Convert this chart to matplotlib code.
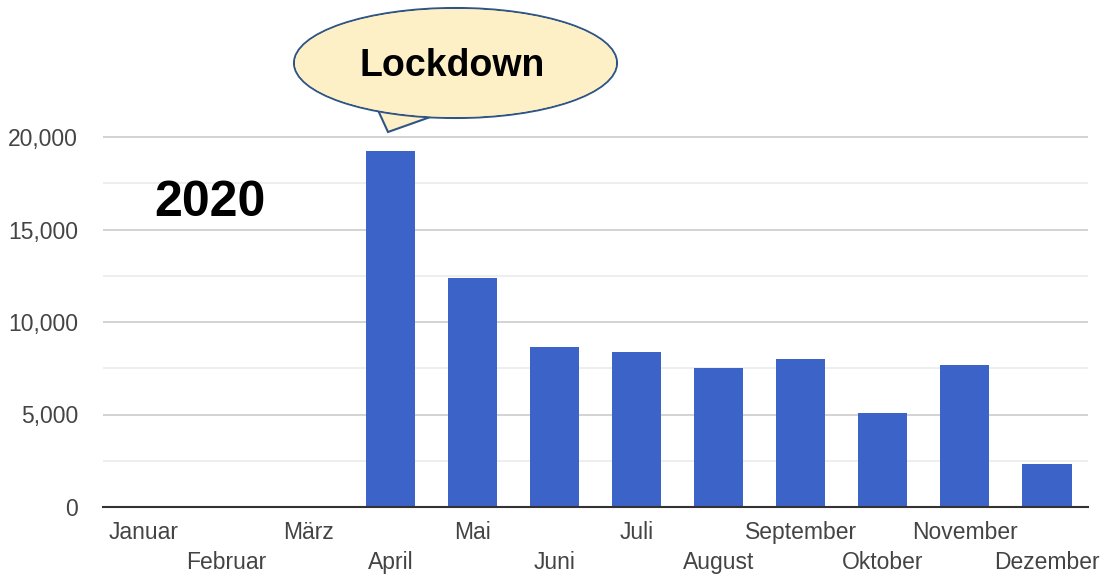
import matplotlib.pyplot as plt
from matplotlib.patches import Ellipse, Polygon
from matplotlib.ticker import FuncFormatter, MultipleLocator

plt.rcParams['font.family'] = ['Liberation Sans', 'DejaVu Sans']

months = ['Januar', 'Februar', 'März', 'April', 'Mai', 'Juni', 'Juli',
          'August', 'September', 'Oktober', 'November', 'Dezember']
values = [0, 0, 0, 19250, 12400, 8650, 8400, 7500, 8000, 5100, 7700, 2350]
year_label = '2020'
bubble_text = 'Lockdown'

W, H = 1102, 577
fig = plt.figure(figsize=(W / 100, H / 100), dpi=100)
fig.patch.set_facecolor('white')


def fx(px):
    return px / W


def fy(py):
    return 1 - py / H


ax = fig.add_axes([fx(103), fy(507), fx(1088) - fx(103), fy(118.5) - fy(507)])

x = list(range(len(months)))
ax.bar(x, values, width=0.6, color='#3b63c8', zorder=3)

ax.set_xlim(-0.5, len(months) - 0.5)
ax.set_ylim(0, 21000)

# grid: major every 5000, lighter minor lines in between
ax.yaxis.set_major_locator(MultipleLocator(5000))
ax.yaxis.set_minor_locator(MultipleLocator(2500))
ax.grid(axis='y', which='major', color='#cccccc', linewidth=1.2, zorder=0)
ax.grid(axis='y', which='minor', color='#ebebeb', linewidth=1.2, zorder=0)
ax.yaxis.set_major_formatter(FuncFormatter(lambda v, p: '{:,.0f}'.format(v)))
ax.tick_params(axis='y', which='both', length=0, pad=18, labelsize=16.5,
               labelcolor='#444444')

for s in ['top', 'right', 'left']:
    ax.spines[s].set_visible(False)
ax.spines['bottom'].set_color('#333333')
ax.spines['bottom'].set_linewidth(1.5)
ax.spines['bottom'].set_zorder(4)

# staggered month labels: even on first row, odd on second row
ax.set_xticks(x[0::2])
ax.set_xticklabels(months[0::2])
ax.set_xticks(x[1::2], minor=True)
ax.set_xticklabels(months[1::2], minor=True)
ax.tick_params(axis='x', which='major', length=0, pad=10, labelsize=16.5,
               labelcolor='#444444')
ax.tick_params(axis='x', which='minor', length=0, pad=32, labelsize=16.5,
               labelcolor='#444444')

fig.text(fx(210), fy(203), year_label, fontsize=36, fontweight='bold',
         ha='center', va='center', color='black')

# speech bubble
tail = Polygon([(fx(377), fy(108)), (fx(388), fy(132)), (fx(436), fy(115))],
               closed=True, transform=fig.transFigure,
               facecolor='#fdf0c6', edgecolor='#2f5586', linewidth=1.5,
               zorder=5)
bubble = Ellipse((fx(455.5), fy(63)), fx(323), 110 / H,
                 transform=fig.transFigure, facecolor='#fdf0c6',
                 edgecolor='#2f5586', linewidth=1.5, zorder=6)
fig.patches.append(tail)
fig.patches.append(bubble)
# cover the tail's top edge inside the ellipse
cover = Ellipse((fx(455.5), fy(63)), fx(321), 108 / H,
                transform=fig.transFigure, facecolor='#fdf0c6',
                edgecolor='none', zorder=7)
fig.patches.append(cover)
fig.text(fx(452), fy(66), bubble_text, fontsize=27, fontweight='bold',
         ha='center', va='center', color='black', zorder=8)

fig.savefig('out.png', dpi=100, facecolor='white')
